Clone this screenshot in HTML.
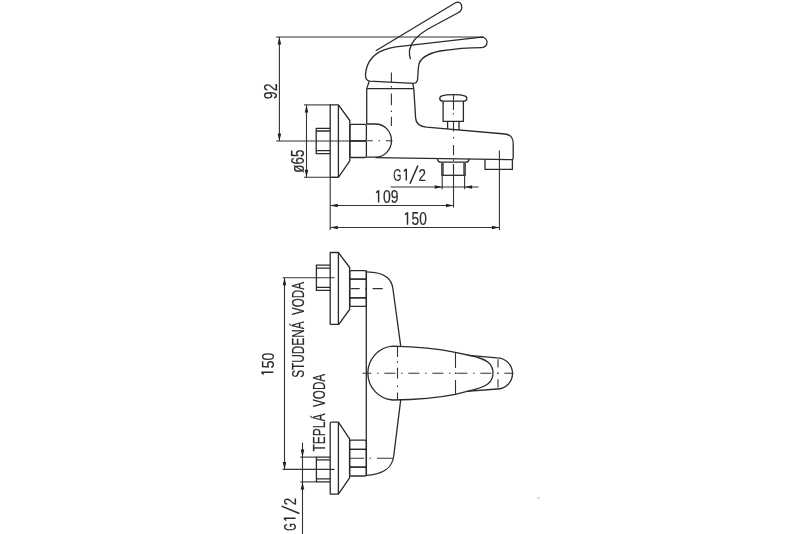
<!DOCTYPE html>
<html><head><meta charset="utf-8">
<style>
html,body{margin:0;padding:0;background:#fff;}
svg{display:block;will-change:transform;}
.s{fill:none;stroke:#2a2a2a;stroke-width:1.3;stroke-linejoin:round;stroke-linecap:butt;}
.d{fill:none;stroke:#333;stroke-width:1.1;}
.c{fill:none;stroke:#333;stroke-width:1.1;stroke-dasharray:11 5.8 1.4 5.8;}
.a{fill:#222;stroke:none;}
text{font-family:"Liberation Sans",sans-serif;font-size:17.5px;fill:#2a2a2a;stroke:#2a2a2a;stroke-width:0.2;}
.f16{font-size:16px;}.one{fill:none;stroke:#2a2a2a;stroke-width:1.45;stroke-linecap:butt;}.f17{font-size:17px;}.f165{font-size:16.5px;}
</style></head>
<body>
<svg width="800" height="534" viewBox="0 0 800 534">
<rect width="800" height="534" fill="#fff"/>

<!-- ===== ELEVATION (top) ===== -->
<!-- dimension 92 -->
<line class="d" x1="276" y1="37" x2="484" y2="37"/>
<line class="d" x1="279.4" y1="37" x2="279.4" y2="141"/>
<path class="a" d="M279.4,37 l-1.8,7.5 h3.6z M279.4,141 l-1.8,-7.5 h3.6z"/>
<text transform="translate(277.3,91.3) rotate(-90)" text-anchor="middle" textLength="15.8" lengthAdjust="spacingAndGlyphs">92</text>
<!-- center line horizontal -->
<line class="d" x1="276" y1="141" x2="366.5" y2="141"/>
<path class="d" d="M367,140.8 H372.8 M378.6,140.8 H380 M385.9,140.8 H392.4"/>
<!-- dimension Ø65 -->
<line class="d" x1="304" y1="104.9" x2="331" y2="104.9"/>
<line class="d" x1="304" y1="177.3" x2="339" y2="177.3"/>
<line class="d" x1="306.5" y1="104.9" x2="306.5" y2="177.3"/>
<path class="a" d="M306.5,104.9 l-1.8,7.5 h3.6z M306.5,177.3 l-1.8,-7.5 h3.6z"/>
<text transform="translate(303.6,161.2) rotate(-90)" text-anchor="middle" textLength="23" lengthAdjust="spacingAndGlyphs">ø65</text>

<!-- flange -->
<path class="s" d="M330.2,104.9 H338.4 V177.3 H330.2 Z"/>
<path class="s" d="M338.4,104.9 L349.8,120.5 V160.8 L338.4,177.3"/>
<!-- eccentric -->
<path class="s" d="M330,128.3 H316.2 V153.6 H330 M316.2,131 H330 M316.2,150.6 H330"/>
<!-- hex nut -->
<rect class="s" x="349.9" y="124.4" width="16.5" height="16.4" rx="1.6"/><rect class="s" x="349.9" y="140.8" width="16.5" height="16.7" rx="1.6"/>
<!-- dome -->
<path class="s" d="M366.5,124 H375.5 A16,16.6 0 0 1 375.5,157.2 H366.5"/>
<!-- body -->
<path class="s" d="M366.7,88.6 V124"/>
<path class="s" d="M375.5,157.6 L511.8,159.6 Q513.2,159.6 513.2,158.2 V143.5 C513.2,138 510,134.5 505,134 L426.4,127.2 Q416,126 415.6,117.9 L413.8,88.6"/>
<!-- collar -->
<path class="s" d="M366.7,88.6 H413.8 M366.7,88.6 L369.3,81.1 M413.8,88.6 L412.8,83.4"/>
<!-- handle -->
<path class="s" d="M369.7,81.1 C367,80.6 365.5,79 365.5,75.5 C365.8,66 370,57.5 379.5,51.9 C385,49.2 392,47.2 402.6,46.2 L481.8,37.1 A5.25,5.25 0 0 1 481.8,47.6 C470,47.6 457,48.4 440,51 C428,53.5 419.5,58 418.6,66 C418.2,70 418,74 417.6,79 Q417.2,83.2 413.6,83.4 L369.7,81.1 Z"/>
<!-- raised lever -->
<path class="s" d="M375.8,50.7 L455.5,2.7 C458.7,1 461.8,3.2 461.8,7 C461.8,10 460.5,11.6 458.1,12.7 L428,29 C421,33 411.5,40 409.5,50 Q409,55 410.5,59.2"/>
<!-- vertical center line -->
<path class="d" d="M391.4,72.4 V82.4 M391.4,86 V87.6 M391.4,93.4 V105.2 M391.4,110.6 V112 M391.4,116.8 V126"/>

<!-- diverter button -->
<path class="s" d="M443,101.2 H463.5 C467.6,101.2 467.9,96.9 464.6,95.9 C460,94.3 446.5,94.3 442,95.9 C438.7,96.9 439,101.2 443,101.2 Z"/>
<path class="s" d="M443.1,101.1 V121.4 H463.4 V101.1"/>
<path class="s" d="M447.6,121.4 V129 M459,121.4 V130"/>
<path class="d" d="M453.5,94.3 V109.9 M453.5,113.2 V114.6 M453.5,121 V131.4 M453.5,137.1 V138.5 M453.5,145 V155.3 M453.5,159.6 V161 M453.5,164 V170"/>

<!-- spout outlet -->
<path class="s" d="M485,159.6 V169.4 H512.4 V159.6"/>
<line class="d" x1="499.4" y1="150.4" x2="499.4" y2="230"/>

<!-- G1/2 connector -->
<path class="s" d="M437.4,158.6 Q437.8,162.2 440.8,162.2 H465.8 Q468.8,162.2 469.2,158.6"/>
<rect x="441.0" y="162.2" width="2.8" height="13.1" fill="#555"/>
<rect x="463.2" y="162.2" width="2.8" height="13.1" fill="#555"/>
<line class="s" x1="441.4" y1="175.3" x2="465.6" y2="175.3"/>
<line class="d" x1="442.2" y1="175.3" x2="442.2" y2="189.2"/>
<line class="d" x1="464.6" y1="175.3" x2="464.6" y2="189.2"/>
<line class="d" x1="390.6" y1="187" x2="478.6" y2="187"/>
<path class="a" d="M442.2,187 l-7.5,-1.8 v3.6z M464.6,187 l7.5,-1.8 v3.6z"/>
<path class="one" d="M406.3,168.7 V180.5 M406.3,169 L403.8,171.2"/>
<text x="397.35" y="180.5" text-anchor="middle" textLength="8.2" lengthAdjust="spacingAndGlyphs" class="f17">G</text>
<line x1="409.9" y1="183.7" x2="417.9" y2="165.6" stroke="#2a2a2a" stroke-width="1.5"/>
<text x="422.3" y="180.6" text-anchor="middle" textLength="7.4" lengthAdjust="spacingAndGlyphs" class="f17">2</text>
<line class="d" x1="453.5" y1="164" x2="453.5" y2="207.6"/>

<!-- 109 / 150 -->
<line class="d" x1="330.2" y1="177.3" x2="330.2" y2="230"/>
<line class="d" x1="330.2" y1="205.5" x2="453.5" y2="205.5"/>
<path class="a" d="M330.2,205.5 l7.5,-1.8 v3.6z M453.5,205.5 l-7.5,-1.8 v3.6z"/>
<path class="one" d="M378.6,190.3 V202.5 M378.6,190.6 L376.1,192.8"/>
<text x="390.65" y="202.5" text-anchor="middle" textLength="15.5" lengthAdjust="spacingAndGlyphs">09</text>
<line class="d" x1="330.2" y1="227.5" x2="499.4" y2="227.5"/>
<path class="a" d="M330.2,227.5 l7.5,-1.8 v3.6z M499.4,227.5 l-7.5,-1.8 v3.6z"/>
<path class="one" d="M407.5,212.2 V224.8 M407.5,212.5 L405,214.8"/>
<text x="419.2" y="224.8" text-anchor="middle" textLength="15.2" lengthAdjust="spacingAndGlyphs">50</text>

<!-- ===== PLAN (bottom) ===== -->
<!-- dimension 150 -->
<line class="d" x1="282.6" y1="277.8" x2="334.5" y2="277.8"/>
<line class="d" x1="282.6" y1="469.4" x2="334.5" y2="469.4"/>
<line class="d" x1="284.5" y1="277.8" x2="284.5" y2="469.4"/>
<path class="a" d="M284.5,277.8 l-1.8,7.5 h3.6z M284.5,469.4 l-1.8,-7.5 h3.6z"/>
<path class="one" d="M261.3,372.3 H273.4 M261.6,372.3 L263.6,374.6"/>
<text transform="translate(273.6,360.4) rotate(-90)" text-anchor="middle" textLength="15.6" lengthAdjust="spacingAndGlyphs" class="f17">50</text>
<text transform="translate(304,298.5) rotate(-90)" text-anchor="middle" textLength="33" lengthAdjust="spacingAndGlyphs" class="f16">VODA</text>
<text transform="translate(304,349.6) rotate(-90)" text-anchor="middle" textLength="56.5" lengthAdjust="spacingAndGlyphs" class="f16">STUDENÁ</text>
<text transform="translate(325,390.4) rotate(-90)" text-anchor="middle" textLength="33" lengthAdjust="spacingAndGlyphs" class="f16">VODA</text>
<text transform="translate(324.5,432.6) rotate(-90)" text-anchor="middle" textLength="38" lengthAdjust="spacingAndGlyphs" class="f16">TEPLÁ</text>
<!-- G1/2 dim -->
<line class="d" x1="300.2" y1="457.1" x2="316.4" y2="457.1"/>
<line class="d" x1="300.2" y1="481.9" x2="316.4" y2="481.9"/>
<line class="d" x1="302.5" y1="442.5" x2="302.5" y2="534"/>
<path class="a" d="M302.5,457.1 l-1.8,-7.5 h3.6z M302.5,481.9 l-1.8,7.5 h3.6z"/>
<path class="one" d="M283.7,518.3 H295.6 M284,518.3 L286.2,520.4"/>
<text transform="translate(295.8,526.85) rotate(-90)" text-anchor="middle" textLength="7.6" lengthAdjust="spacingAndGlyphs" class="f17">G</text>
<line x1="299.4" y1="513.5" x2="281.6" y2="506.1" stroke="#2a2a2a" stroke-width="1.5"/>
<text transform="translate(295.8,501.5) rotate(-90)" text-anchor="middle" textLength="7.4" lengthAdjust="spacingAndGlyphs" class="f17">2</text>

<!-- upper connection -->
<path class="s" d="M330.2,252.5 H338.4 V324.3 H330.2 Z"/>
<path class="s" d="M338.4,252.5 L349.6,267.5 V309.5 L338.8,324.3"/>
<path class="s" d="M330.2,265.2 H316.4 V290.4 H330.2 M316.4,268.2 H330.2 M316.4,287.4 H330.2"/>
<rect class="s" x="349.8" y="270.7" width="16.6" height="8.5" rx="1.6"/><rect class="s" x="349.8" y="279.2" width="16.6" height="18.7" rx="1.6"/><rect class="s" x="349.8" y="297.9" width="16.6" height="8.4" rx="1.6"/>
<path class="d" d="M350.7,288.6 H359.7 M365.3,288.6 H366.7 M372.6,288.6 H382.7"/>

<!-- lower connection -->
<path class="s" d="M331.4,422.1 H338.4 V494.1 H330.2 V423.3 Q330.2,422.1 331.4,422.1 Z"/>
<path class="s" d="M338.4,422.1 L349.6,438.9 V477.8 L338.4,494.1"/>
<path class="s" d="M330.2,457.1 H316.4 V481.9 H330.2 M316.4,459.8 H330.2 M316.4,478.9 H330.2"/>
<rect class="s" x="349.6" y="440.2" width="16.8" height="9.1" rx="1.6"/><rect class="s" x="349.6" y="449.3" width="16.8" height="17.9" rx="1.6"/><rect class="s" x="349.6" y="467.2" width="16.8" height="8.8" rx="1.6"/>
<path class="d" d="M349.6,458.2 H364.2 M369.6,458.2 H371 M377,458.2 H392.8"/>

<!-- body plan -->
<path class="s" d="M366.3,271.8 L373,272.3 C385,273.5 391.5,279.5 392.8,288 L400.7,345.8"/>
<path class="s" d="M400.7,399.8 L393.7,456 C392.5,468 382,474.5 366,475.3"/>
<line class="s" x1="366.3" y1="270.5" x2="366.3" y2="475.3"/>

<!-- lever plan -->
<path class="s" d="M392.5,346.2 Q430,347.2 455.3,352.3 L470,355.5 C487.5,359 493,364 493,373 C493,382 487.5,386.8 470,390.6 L455.3,394.3 Q430,399.4 392.5,400 A27,27 0 0 1 392.5,346.2 Z"/>
<path class="s" d="M469,355.3 L496.9,357.8 A15.6,15.6 0 0 1 496.9,389 L467,391.3"/>
<line class="c" x1="362.5" y1="373.2" x2="513.5" y2="373.2" stroke-dashoffset="2.2"/>
<path class="d" d="M397.5,346.2 V357.1 M397.5,361.3 V362.7 M397.5,367.8 V378.6 M397.5,385.6 V387 M397.5,392.4 V400"/>
<path class="d" d="M455.5,352.6 V368.1 M455.5,372.6 V374 M455.5,380 V394.4"/>
<path class="d" d="M498,359.2 V367.6 M498,372.6 V374 M498,379.2 V387.6"/>
<circle cx="538.6" cy="497.8" r="1.1" fill="#c8c8c8"/>
</svg>
</body></html>
